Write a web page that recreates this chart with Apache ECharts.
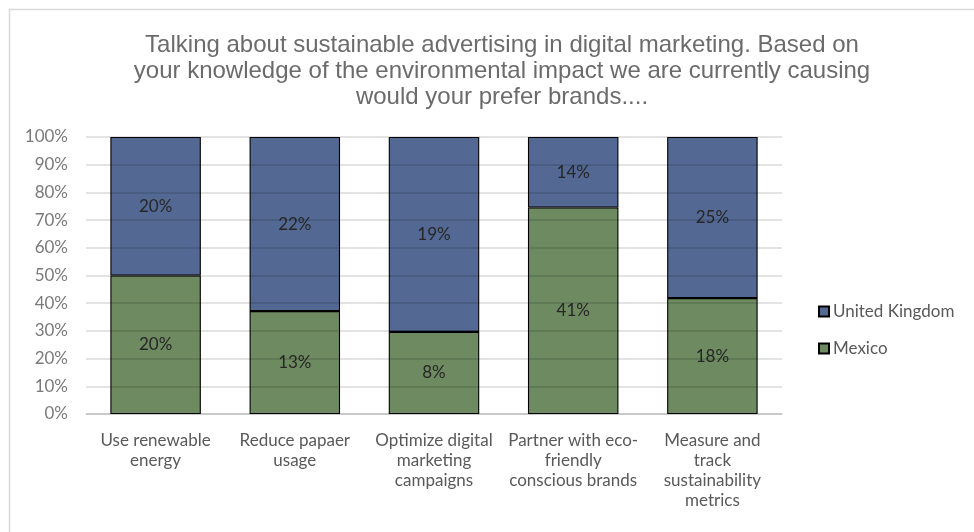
<!DOCTYPE html>
<html>
<head>
<meta charset="utf-8">
<script src="https://cdn.jsdelivr.net/npm/echarts@6/dist/echarts.min.js"></script>
<style>
  html, body { margin: 0; padding: 0; background: #fff; }
  #chart { width: 974px; height: 532px; }
</style>
</head>
<body>
<div id="chart"></div>
<script>
// Survey answers (share of respondents) per preferred brand action
const categories = [
  'Use renewable\nenergy',
  'Reduce papaer\nusage',
  'Optimize digital\nmarketing\ncampaigns',
  'Partner with eco-\nfriendly\nconscious brands',
  'Measure and\ntrack\nsustainability\nmetrics'
];
const mexico = [20, 13, 8, 41, 18];
const unitedKingdom = [20, 22, 19, 14, 25];
const yTicks = [0, 10, 20, 30, 40, 50, 60, 70, 80, 90, 100];

// 100% stacked: each column is normalised to the sum of both countries
const totals = mexico.map((v, i) => v + unitedKingdom[i]);
const share = arr => arr.map((v, i) => ({ value: v / totals[i] * 100, raw: v }));

const textGray = '#595959';
const bodyFont = 'Lato';

const chart = echarts.init(document.getElementById('chart'), null, { renderer: 'canvas' });

const labelOpt = {
  show: true,
  position: 'inside',
  color: '#262626',
  fontFamily: bodyFont,
  fontSize: 17,
  formatter: p => p.data.raw + '%'
};

chart.setOption({
  animation: false,
  backgroundColor: '#fff',
  graphic: [{
    type: 'rect',
    shape: { x: 9.5, y: 9.5, width: 1000, height: 600 },
    style: { fill: 'none', stroke: '#d9d9d9', lineWidth: 1.5 },
    silent: true,
    z: -10
  }],
  title: {
    text: 'Talking about sustainable advertising in digital marketing. Based on\nyour knowledge of the environmental impact we are currently causing\nwould your prefer brands....',
    left: 497,
    top: 27,
    textAlign: 'center',
    textStyle: {
      color: '#6b6b6b',
      fontFamily: 'Liberation Sans',
      fontWeight: 'normal',
      fontSize: 24,
      lineHeight: 26
    }
  },
  legend: {
    orient: 'vertical',
    left: 813,
    top: 298,
    itemWidth: 10,
    itemHeight: 10,
    itemGap: 20,
    icon: 'rect',
    data: ['United Kingdom', 'Mexico'],
    textStyle: { color: textGray, fontFamily: bodyFont, fontSize: 17, lineHeight: 17, padding: [0, 0, 0, -1] }
  },
  grid: { left: 86, right: 192, top: 137, bottom: 118 },
  xAxis: {
    type: 'category',
    data: categories,
    axisLine: { show: true, lineStyle: { color: '#d9d9d9', width: 1.5 } },
    axisTick: { show: false },
    axisLabel: {
      color: textGray,
      fontFamily: bodyFont,
      fontSize: 17,
      lineHeight: 20,
      margin: 17,
      interval: 0
    }
  },
  yAxis: {
    type: 'value',
    min: yTicks[0],
    max: yTicks[yTicks.length - 1],
    interval: yTicks[1] - yTicks[0],
    z: 3,
    axisLine: { show: false },
    axisTick: { show: false },
    splitLine: { lineStyle: { color: 'rgba(0,0,0,0.15)', width: 1.5 } },
    axisLabel: {
      color: '#7a7a7a',
      fontFamily: bodyFont,
      fontSize: 17,
      margin: 18,
      formatter: '{value}%'
    }
  },
  series: [
    {
      name: 'Mexico',
      type: 'bar',
      stack: 'total',
      barCategoryGap: '35%',
      data: share(mexico),
      itemStyle: { color: '#6e8a61', borderColor: '#000', borderWidth: 1.1 },
      label: labelOpt
    },
    {
      name: 'United Kingdom',
      type: 'bar',
      stack: 'total',
      barCategoryGap: '35%',
      data: share(unitedKingdom),
      itemStyle: { color: '#536892', borderColor: '#000', borderWidth: 1.1 },
      label: labelOpt
    }
  ]
});
</script>
</body>
</html>
